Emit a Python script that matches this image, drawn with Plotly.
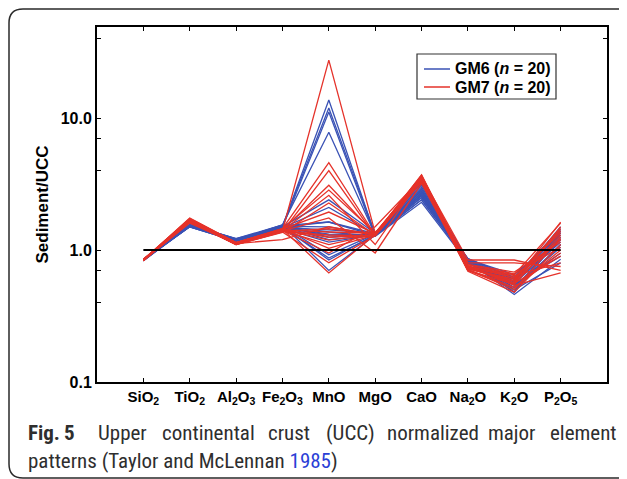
import plotly.graph_objects as go

# ---------------- data ----------------
oxides = ["SiO<sub>2</sub>", "TiO<sub>2</sub>", "Al<sub>2</sub>O<sub>3</sub>", "Fe<sub>2</sub>O<sub>3</sub>",
          "MnO", "MgO", "CaO", "Na<sub>2</sub>O", "K<sub>2</sub>O", "P<sub>2</sub>O<sub>5</sub>"]

gm6 = [
    [0.84, 1.52, 1.18, 1.50, 13.7, 1.30, 2.6, 0.84, 0.55, 1.30],
    [0.84, 1.55, 1.20, 1.52, 11.9, 1.32, 2.8, 0.82, 0.52, 1.20],
    [0.85, 1.50, 1.17, 1.48, 11.1, 1.28, 2.5, 0.85, 0.48, 1.40],
    [0.84, 1.53, 1.19, 1.55, 7.8, 1.30, 2.7, 0.80, 0.50, 1.10],
    [0.83, 1.56, 1.21, 1.50, 2.4, 1.34, 3.0, 0.83, 0.58, 1.35],
    [0.84, 1.52, 1.18, 1.47, 2.1, 1.31, 2.9, 0.81, 0.60, 1.25],
    [0.85, 1.54, 1.20, 1.53, 1.63, 1.29, 2.6, 0.86, 0.62, 1.45],
    [0.84, 1.50, 1.17, 1.49, 1.63, 1.33, 3.2, 0.84, 0.54, 0.95],
    [0.84, 1.55, 1.22, 1.51, 1.50, 1.30, 2.4, 0.82, 0.46, 0.85],
    [0.83, 1.51, 1.18, 1.52, 1.37, 1.27, 2.3, 0.80, 0.56, 1.15],
    [0.84, 1.53, 1.19, 1.48, 1.30, 1.31, 2.8, 0.85, 0.65, 1.30],
    [0.85, 1.52, 1.20, 1.54, 1.25, 1.33, 2.5, 0.83, 0.50, 0.80],
    [0.84, 1.56, 1.21, 1.50, 1.20, 1.29, 2.7, 0.81, 0.58, 1.20],
    [0.84, 1.50, 1.17, 1.46, 1.15, 1.30, 3.1, 0.84, 0.52, 1.05],
    [0.83, 1.54, 1.19, 1.52, 0.92, 1.32, 2.6, 0.86, 0.60, 1.40],
    [0.84, 1.53, 1.18, 1.49, 0.87, 1.28, 2.4, 0.82, 0.48, 1.25],
    [0.85, 1.51, 1.20, 1.51, 0.84, 1.31, 2.9, 0.80, 0.55, 0.90],
    [0.84, 1.55, 1.22, 1.55, 0.70, 1.30, 2.6, 0.84, 0.62, 1.35],
    [0.84, 1.52, 1.19, 1.48, 1.42, 1.34, 3.3, 0.83, 0.50, 1.10],
    [0.84, 1.54, 1.18, 1.50, 1.32, 1.30, 2.7, 0.85, 0.57, 1.50],
]

gm7 = [
    [0.84, 1.70, 1.12, 1.40, 27.5, 1.35, 3.5, 0.75, 0.65, 1.60],
    [0.84, 1.65, 1.10, 1.45, 4.6, 1.30, 3.6, 0.72, 0.60, 1.45],
    [0.85, 1.72, 1.13, 1.38, 4.0, 1.28, 3.4, 0.70, 0.55, 1.30],
    [0.83, 1.68, 1.11, 1.42, 3.1, 1.32, 3.7, 0.76, 0.62, 1.20],
    [0.84, 1.75, 1.14, 1.45, 2.85, 1.35, 3.3, 0.74, 0.58, 1.63],
    [0.84, 1.60, 1.12, 1.40, 2.6, 1.10, 3.5, 0.70, 0.52, 1.00],
    [0.85, 1.66, 1.10, 1.36, 2.27, 1.30, 3.4, 0.78, 0.68, 1.15],
    [0.84, 1.70, 1.13, 1.44, 1.94, 1.33, 3.6, 0.73, 0.56, 0.90],
    [0.83, 1.62, 1.11, 1.39, 1.75, 0.95, 3.2, 0.71, 0.50, 1.25],
    [0.84, 1.68, 1.12, 1.20, 1.50, 1.30, 3.5, 0.75, 0.64, 0.80],
    [0.84, 1.73, 1.14, 1.42, 1.37, 1.34, 3.6, 0.84, 0.84, 0.70],
    [0.85, 1.64, 1.10, 1.38, 1.30, 1.28, 3.3, 0.72, 0.60, 1.40],
    [0.84, 1.69, 1.12, 1.43, 1.19, 1.31, 3.5, 0.76, 0.54, 0.67],
    [0.84, 1.66, 1.11, 1.40, 1.10, 1.32, 3.4, 0.69, 0.48, 1.10],
    [0.83, 1.71, 1.13, 1.45, 1.03, 1.30, 3.7, 0.74, 0.62, 1.35],
    [0.84, 1.67, 1.12, 1.41, 0.95, 1.50, 3.5, 0.77, 0.66, 1.05],
    [0.85, 1.63, 1.10, 1.37, 0.80, 1.29, 3.3, 0.71, 0.52, 0.95],
    [0.84, 1.70, 1.14, 1.44, 0.67, 1.31, 3.6, 0.73, 0.58, 1.20],
    [0.84, 1.65, 1.11, 1.39, 1.45, 1.33, 3.4, 0.80, 0.80, 0.75],
    [0.84, 1.72, 1.13, 1.43, 1.25, 1.30, 3.5, 0.75, 0.56, 1.50],
]

ucc_reference = 1.0
y_major_ticks = [0.1, 1, 10]
y_major_text = ["0.1", "1.0", "10.0"]
y_minor_ticks = [0.4, 0.7, 4, 7, 40]

series_names = ["GM6 (<i>n</i> = 20)", "GM7 (<i>n</i> = 20)"]

# ---------------- styling ----------------
OFF = 8                      # default body margin of the html page
W, H = 627 - OFF, 479 - OFF
L, T, R = 97 - OFF, 27 - OFF, 20
B = H - (382 - OFF)
PW, PH = W - L - R, H - T - B
BLUE = "#3a52b5"
RED = "#e5322a"
FONT = "Liberation Sans, Arial, sans-serif"
CAP_FONT = "Liberation Sans Narrow, Arial Narrow, Roboto Condensed, Liberation Sans, sans-serif"


def px_x(px):   # window pixel -> paper
    return (px - 97) / PW


def px_y(py):
    return (382 - py) / PH


fig = go.Figure()
for i, row in enumerate(gm6):
    fig.add_trace(go.Scatter(x=oxides, y=row, mode="lines", line=dict(color=BLUE, width=1.3),
                             name=series_names[0], legendgroup="gm6", showlegend=False))
for i, row in enumerate(gm7):
    fig.add_trace(go.Scatter(x=oxides, y=row, mode="lines", line=dict(color=RED, width=1.3),
                             name=series_names[1], legendgroup="gm7", showlegend=False))
fig.add_trace(go.Scatter(x=[oxides[0], oxides[-1]], y=[ucc_reference, ucc_reference], mode="lines",
                         line=dict(color="black", width=2), showlegend=False, hoverinfo="skip"))

fig.update_layout(
    width=W, height=H,
    margin=dict(l=L, r=R, t=T, b=B, pad=0),
    paper_bgcolor="white", plot_bgcolor="white",
    font=dict(family=FONT, color="black"),
    showlegend=False,
)

fig.update_xaxes(type="category", range=[-1, 10], showline=True, linecolor="black", linewidth=2,
                 mirror="allticks", ticks="inside", ticklen=4, tickcolor="black", tickwidth=1.2,
                 showgrid=False, zeroline=False,
                 tickfont=dict(size=15, weight="bold", family=FONT))
fig.update_yaxes(type="log", range=[-1, 1.69], showline=True, linecolor="black", linewidth=2,
                 mirror="allticks", ticks="inside", ticklen=4, tickcolor="black", tickwidth=1.2,
                 showgrid=False, zeroline=False,
                 tickmode="array", tickvals=y_major_ticks, ticktext=y_major_text,
                 minor=dict(tickmode="array", tickvals=y_minor_ticks, ticks="inside", ticklen=4,
                            tickcolor="black", tickwidth=1.2, showgrid=False),
                 tickfont=dict(size=16, weight="bold", family=FONT),
                 title=dict(text="Sediment/UCC", font=dict(size=17, weight="bold", family=FONT),
                            standoff=8))

# legend box drawn by hand (short line samples as in the reference)
fig.add_shape(type="rect", xref="paper", yref="paper", x0=px_x(417), x1=px_x(556),
              y0=px_y(99), y1=px_y(54), line=dict(color="#333333", width=1.2), fillcolor="white",
              layer="above")
for name, col, ypix in [(series_names[0], BLUE, 69), (series_names[1], RED, 87)]:
    fig.add_shape(type="line", xref="paper", yref="paper", x0=px_x(424), x1=px_x(450),
                  y0=px_y(ypix), y1=px_y(ypix), line=dict(color=col, width=1.5), layer="above")
    fig.add_annotation(text=name, x=px_x(453), y=px_y(ypix), xref="paper", yref="paper",
                       xanchor="left", yanchor="middle", showarrow=False,
                       font=dict(family=FONT, size=16, weight="bold", color="black"))

# card border (rounded left corners, extends beyond right edge)
x0, x1 = px_x(9), px_x(680)
ytop, ybot = px_y(9), px_y(478)
rx, ry = 14 / PW, 14 / PH
path = (f"M {x1} {ytop} L {x0 + rx} {ytop} Q {x0} {ytop} {x0} {ytop - ry} "
        f"L {x0} {ybot + ry} Q {x0} {ybot} {x0 + rx} {ybot} L {x1} {ybot}")
fig.add_shape(type="path", path=path, xref="paper", yref="paper",
              line=dict(color="#2a2a2a", width=1.5), layer="above")

# caption (first line justified word by word)
cap_font = dict(family=CAP_FONT, size=21, color="#2e2e2e")
line1_words = [("<b>Fig.</b>", 26), ("<b>5</b>", 62), ("Upper", 96), ("continental", 160),
               ("crust", 266), ("(UCC)", 324), ("normalized", 385), ("major", 486), ("element", 548)]
for txt, xp in line1_words:
    fig.add_annotation(text=txt, x=px_x(xp), y=px_y(433), xref="paper", yref="paper",
                       xanchor="left", yanchor="middle", showarrow=False, font=cap_font)
fig.add_annotation(text="patterns (Taylor and McLennan <span style='color:#2b3fd6'>1985</span>)",
                   x=px_x(26), y=px_y(461), xref="paper", yref="paper",
                   xanchor="left", yanchor="middle", showarrow=False, font=cap_font)

fig.write_html("out.html")
